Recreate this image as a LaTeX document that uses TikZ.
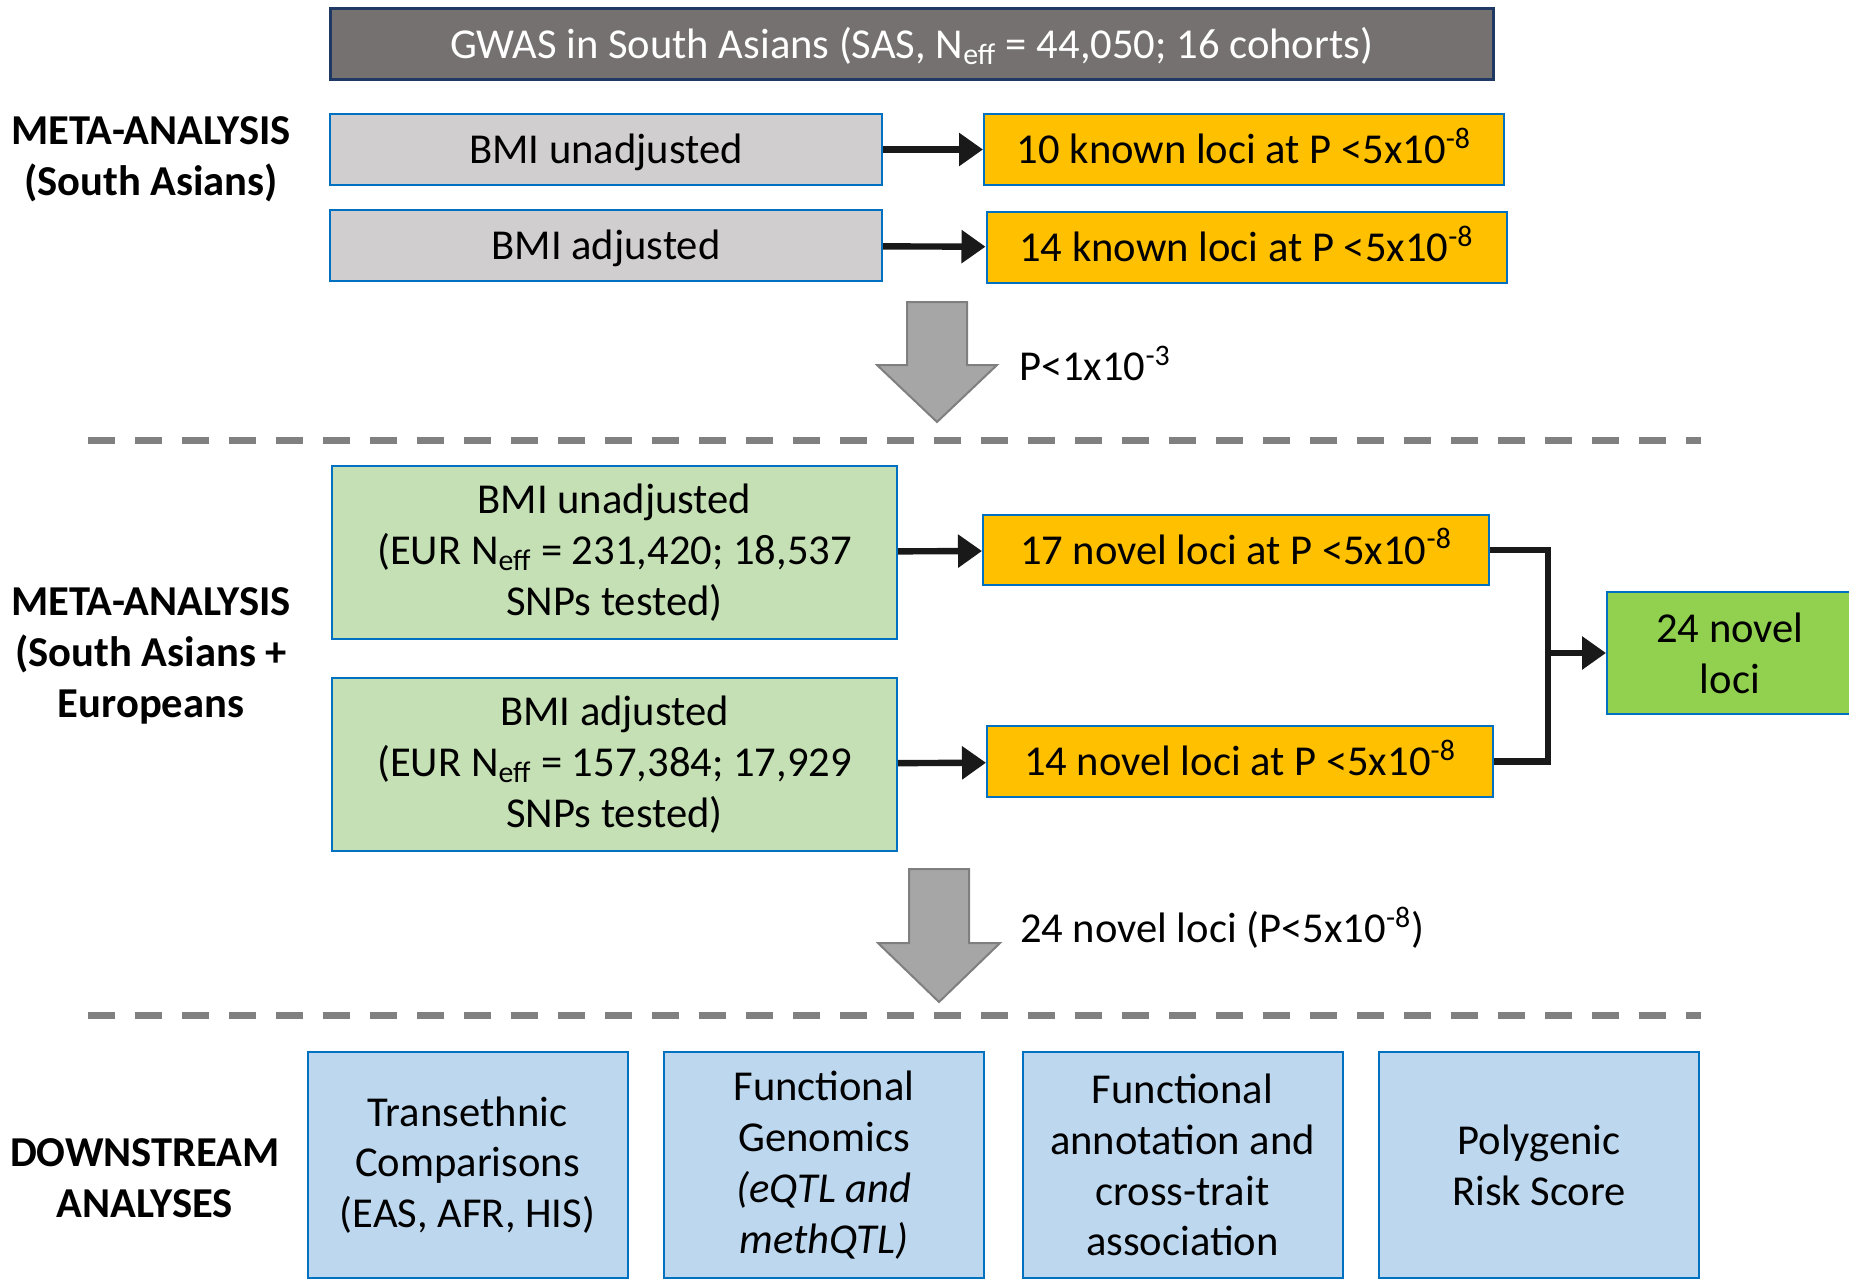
\documentclass[tikz,border=0pt]{standalone}
\usepackage{fontspec}
\setmainfont{Carlito}
\usetikzlibrary{arrows.meta, positioning}
\definecolor{bannergrey}{HTML}{767171}
\definecolor{banneredge}{HTML}{203864}
\definecolor{boxedge}{HTML}{0070C0}
\definecolor{boxgrey}{HTML}{D0CECE}
\definecolor{lociorange}{HTML}{FFC000}
\definecolor{palegreen}{HTML}{C5E0B4}
\definecolor{novelgreen}{HTML}{92D050}
\definecolor{paleblue}{HTML}{BDD7EE}
\definecolor{bigarrowfill}{HTML}{A6A6A6}
\definecolor{bigarrowedge}{HTML}{7F7F7F}
\definecolor{sepgrey}{HTML}{808080}
\newcommand{\txt}{\fontsize{21.3}{25.4}\selectfont}

\begin{document}
\begin{tikzpicture}[x=0.5pt, y=-0.5pt,
    box/.style={draw=boxedge, line width=1pt, align=center, inner sep=0pt, font=\txt},
    oneline/.style={text height=14pt, text depth=0pt},
    sasbox/.style={box, oneline, fill=boxgrey, minimum width=276pt, minimum height=35.5pt},
    hitbox/.style={box, oneline, fill=lociorange, minimum width=260pt, minimum height=35.5pt},
    eurbox/.style={box, fill=palegreen, minimum width=282.5pt, minimum height=86.5pt},
    downbox/.style={box, fill=paleblue, minimum width=160pt, minimum height=113pt},
    side/.style={align=center, font=\bfseries\txt},
    link/.style={-{Triangle[length=12pt, width=16pt]}, line width=3.2pt, black!90},
    bigarrow/.style={fill=bigarrowfill, draw=bigarrowedge, line width=1pt},
    sepline/.style={sepgrey, line width=3.5pt, dash pattern=on 13.5pt off 10pt}]
  \useasboundingbox (0,0) rectangle (1849,1279);
  \clip (0,0) rectangle (1849,1279);

  % GWAS banner
  \node[box, oneline, draw=banneredge, line width=1.5pt, fill=bannergrey, text=white,
    minimum width=581.5pt, minimum height=35.5pt] (gwas) at (911.5,44.5)
    {GWAS in South Asians (SAS, N\textsubscript{eff} = 44,050; 16 cohorts)};

  % South Asian meta-analysis
  \node[side] (sas) at (151,159) {META-ANALYSIS\\(South Asians)};
  \node[sasbox] (unadj) at (606,149.5) {BMI unadjusted};
  \node[sasbox] (adj) at (606,245.5) {BMI adjusted};
  \node[hitbox] (knownA) at (1244,149.5) {10 known loci at P <5x10\textsuperscript{-8}};
  \node[hitbox] (knownB) at (1246.5,247.5) {14 known loci at P <5x10\textsuperscript{-8}};
  \draw[link] (unadj) -- (knownA);
  \draw[link] (adj) -- (knownB);

  \draw[bigarrow] (907,302) -- (967,302) -- (967,365) -- (997,365)
    -- (937,422) -- (877,365) -- (907,365) -- cycle;
  \node[anchor=west, font=\txt] (thrA) at (1012,363) {P<1x10\textsuperscript{-3}};

  \draw[sepline] (88,440) -- (1701,440);

  % South Asian + European meta-analysis
  \node[side] (eur) at (151,656) {META-ANALYSIS\\(South Asians +\\Europeans};
  \node[eurbox] (eurunadj) at (614.5,552.5)
    {BMI unadjusted\\(EUR N\textsubscript{eff} = 231,420; 18,537\\SNPs tested)};
  \node[eurbox] (euradj) at (614.5,764.5)
    {BMI adjusted\\(EUR N\textsubscript{eff} = 157,384; 17,929\\SNPs tested)};
  \node[hitbox, minimum width=253pt, minimum height=35pt] (novelA) at (1236,550)
    {17 novel loci at P <5x10\textsuperscript{-8}};
  \node[hitbox, minimum width=253pt] (novelB) at (1240,761.5)
    {14 novel loci at P <5x10\textsuperscript{-8}};
  \node[box, fill=novelgreen, minimum width=123pt, minimum height=61pt] (novel) at (1730,653)
    {24 novel\\loci};
  \draw[link] (eurunadj) -- (novelA);
  \draw[link] (euradj) -- (novelB);
  \coordinate (join) at (1548,653);
  \draw[line width=3.2pt, black!90] (novelA.east) -| (join);
  \draw[line width=3.2pt, black!90] (novelB.east) -| (join);
  \draw[link] (join) -- (novel.west);

  \draw[bigarrow] (909,869) -- (969,869) -- (969,943) -- (1000,943)
    -- (939,1002) -- (878,943) -- (909,943) -- cycle;
  \node[anchor=west, font=\txt] (thrB) at (1013,928) {24 novel loci (P<5x10\textsuperscript{-8})};

  \draw[sepline] (88,1015) -- (1701,1015);

  % downstream
  \node[side] (down) at (145,1178) {DOWNSTREAM\\ANALYSES};
  \node[downbox] (trans) at (467.5,1165) {Transethnic\\Comparisons\\(EAS, AFR, HIS)};
  \node[downbox] (fgen) at (824,1165) {Functional\\Genomics\\\textit{(eQTL and}\\\textit{methQTL)}};
  \node[downbox] (fanno) at (1182.5,1165) {Functional\\annotation and\\cross-trait\\association};
  \node[downbox] (prs) at (1539,1165) {Polygenic\\Risk Score};
\end{tikzpicture}
\end{document}
